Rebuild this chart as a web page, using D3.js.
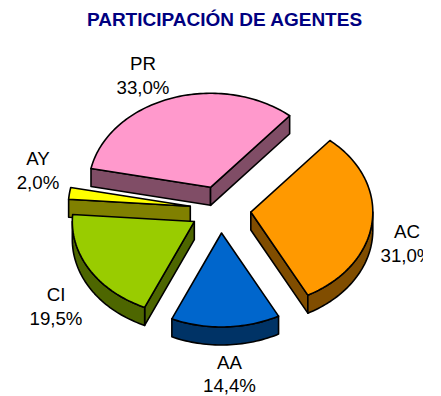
<!DOCTYPE html>
<html>
<head>
<meta charset="utf-8">
<script src="https://cdn.jsdelivr.net/npm/d3@7"></script>
<style>
  html, body { margin: 0; padding: 0; background: #fff; }
  svg { display: block; font-family: "Liberation Sans", Arial, sans-serif; }
</style>
</head>
<body>
<div id="chart"></div>
<script>
const chartTitle = "PARTICIPACIÓN DE AGENTES";
const categories = ["PR", "AC", "AA", "CI", "AY"];
const shares = [33.0, 31.0, 14.4, 19.5, 2.0];
const shareLabels = ["33,0%", "31,0%", "14,4%", "19,5%", "2,0%"];
const topColors = ["#ff99cc", "#ff9900", "#0066cc", "#99cc00", "#ffff00"];
const sideColors = ["#804d66", "#804d00", "#003366", "#4d6600", "#808000"];
// label centres
const labelX = [143, 407, 229.5, 56, 38];
const labelY = [70, 238, 368.5, 301, 165];

const width = 441;
const height = 396;
const clipRight = 423; // the AC label is cut off here in the original
const cx = 220.5;
const cy = 209.5;
const rx = 122;
const ry = 94;
const depth = 18;
const explode = 0.25;
const firstAngle = 281.5 * Math.PI / 180;

const svg = d3.select("#chart").append("svg")
  .attr("width", width)
  .attr("height", height);

svg.append("defs").append("clipPath").attr("id", "page")
  .append("rect").attr("width", clipRight).attr("height", height);

const root = svg.append("g").attr("clip-path", "url(#page)");

const pieData = d3.pie()
  .sort(null)
  .startAngle(firstAngle)
  .endAngle(firstAngle + 2 * Math.PI)
  .value(d => d)(shares);

const line = d3.line();

// point on the rim of the pie ellipse, angle clockwise from 12 o'clock
const rim = (c, a) => [c[0] + rx * Math.sin(a), c[1] - ry * Math.cos(a)];
const down = p => [p[0], p[1] + depth];

function rimPoints(c, a0, a1) {
  const n = Math.max(2, Math.ceil((a1 - a0) * 40));
  return d3.range(n + 1).map(i => rim(c, a0 + (a1 - a0) * i / n));
}

function drawWall(points, color) {
  const wall = points.concat(points.slice().reverse().map(down));
  root.append("path")
    .attr("d", line(wall) + "Z")
    .attr("fill", color)
    .attr("stroke", "#000")
    .attr("stroke-width", 1.6)
    .attr("stroke-linejoin", "round");
}

function drawSlice(d, i) {
  const mid = (d.startAngle + d.endAngle) / 2;
  const far = rim([cx, cy], mid);
  const c = [cx + explode * (far[0] - cx), cy + explode * (far[1] - cy)];
  const a0 = d.startAngle;
  const a1 = d.endAngle;

  // cut faces only show when the top surface sits above their edge
  if (Math.sin(a0) < 0) drawWall([c, rim(c, a0)], sideColors[i]);
  if (Math.sin(a1) > 0) drawWall([c, rim(c, a1)], sideColors[i]);

  // outer wall: the part of the rim on the front half of the ellipse
  const from = Math.max(a0, 2.5 * Math.PI);
  const to = Math.min(a1, 3.5 * Math.PI);
  if (to > from) drawWall(rimPoints(c, from, to), sideColors[i]);

  root.append("path")
    .attr("d", line([c].concat(rimPoints(c, a0, a1))) + "Z")
    .attr("fill", topColors[i])
    .attr("stroke", "#000")
    .attr("stroke-width", 1.6)
    .attr("stroke-linejoin", "round");
}

// back to front
[0, 4, 3, 1, 2].forEach(i => drawSlice(pieData[i], i));

root.append("text")
  .attr("x", 224.5)
  .attr("y", 26)
  .attr("text-anchor", "middle")
  .attr("font-weight", "bold")
  .attr("font-size", 19)
  .attr("fill", "#000080")
  .text(chartTitle);

const labels = root.append("g").selectAll("text")
  .data(categories)
  .join("text")
  .attr("text-anchor", "middle")
  .attr("font-size", 18.7)
  .attr("fill", "#000");

labels.append("tspan")
  .attr("x", (d, i) => labelX[i])
  .attr("y", (d, i) => labelY[i])
  .text(d => d);
labels.append("tspan")
  .attr("x", (d, i) => labelX[i])
  .attr("y", (d, i) => labelY[i] + 23.5)
  .text((d, i) => shareLabels[i]);
</script>
</body>
</html>
